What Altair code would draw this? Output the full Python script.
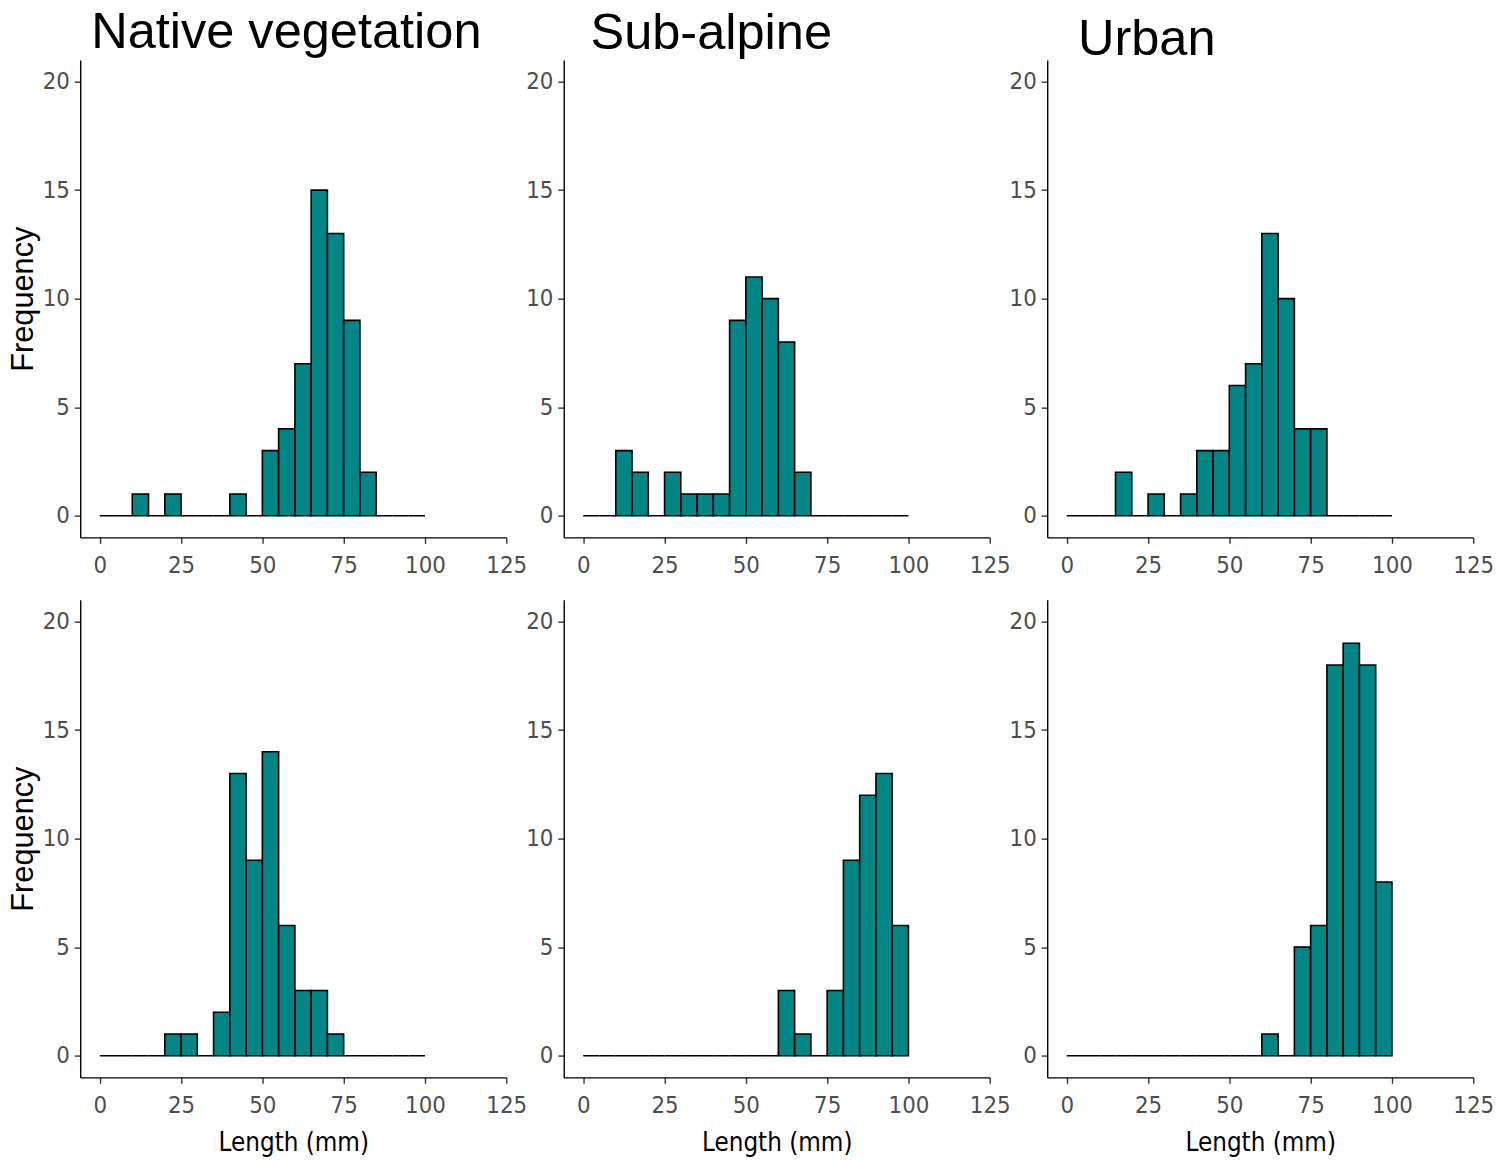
import altair as alt
import pandas as pd

# Length-frequency histograms, 5 mm bins from 0 to 100 mm
BIN_WIDTH = 5
BIN_STARTS = [0, 5, 10, 15, 20, 25, 30, 35, 40, 45, 50, 55, 60, 65, 70, 75, 80, 85, 90, 95]

HABITATS = ["Native vegetation", "Sub-alpine", "Urban"]

# top row
native_top = [0, 0, 1, 0, 1, 0, 0, 0, 1, 0, 3, 4, 7, 15, 13, 9, 2, 0, 0, 0]
subalpine_top = [0, 0, 3, 2, 0, 2, 1, 1, 1, 9, 11, 10, 8, 2, 0, 0, 0, 0, 0, 0]
urban_top = [0, 0, 0, 2, 0, 1, 0, 1, 3, 3, 6, 7, 13, 10, 4, 4, 0, 0, 0, 0]

# bottom row
native_bottom = [0, 0, 0, 0, 1, 1, 0, 2, 13, 9, 14, 6, 3, 3, 1, 0, 0, 0, 0, 0]
subalpine_bottom = [0, 0, 0, 0, 0, 0, 0, 0, 0, 0, 0, 0, 3, 1, 0, 3, 9, 12, 13, 6]
urban_bottom = [0, 0, 0, 0, 0, 0, 0, 0, 0, 0, 0, 0, 1, 0, 5, 6, 18, 19, 18, 8]

X_TICKS = [0, 25, 50, 75, 100, 125]
Y_TICKS = [0, 5, 10, 15, 20]
X_TITLE = "Length (mm)"
Y_TITLE = "Frequency"

FILL = "#038585"
NARROW = "'Liberation Sans Narrow', 'Arial Narrow', 'DejaVu Sans Condensed', 'Liberation Sans', sans-serif"
REGULAR = "'Liberation Sans', Arial, sans-serif"

PANEL_W = 430
PANEL_H = 482

# horizontal nudge and vertical shift of each column heading
HEADING_DX = [11, 27, 31]
HEADING_DY = [-5, -4, 2]


def axis(values, orient, title=None):
    opts = dict(
        values=values,
        grid=False,
        domainColor="black",
        domainWidth=1.4,
        tickColor="#333333",
        tickWidth=1.4,
        tickSize=6,
        labelFont=NARROW,
        labelFontSize=24,
        labelColor="#4D4D4D",
        labelFlush=False,
        labelOverlap=False,
        labelPadding=10 if orient == "bottom" else 5,
    )
    if title:
        opts.update(
            title=title,
            titleFontWeight="normal",
            titleColor="black",
        )
        if orient == "bottom":
            opts.update(titleFont=NARROW, titleFontSize=26, titlePadding=13)
        else:
            opts.update(titleFont=REGULAR, titleFontSize=31, titlePadding=3)
    else:
        opts.update(title=None)
    return alt.Axis(**opts)


def panel(counts, heading_idx=None, x_title=None, y_title=None):
    df = pd.DataFrame({
        "start": BIN_STARTS,
        "end": [s + BIN_WIDTH for s in BIN_STARTS],
        "count": counts,
    })
    chart = alt.Chart(df).mark_bar(
        fill=FILL, stroke="black", strokeWidth=1.6, opacity=1
    ).encode(
        x=alt.X("start:Q", scale=alt.Scale(domain=[-6, 125], nice=False, zero=False),
                axis=axis(X_TICKS, "bottom", x_title)),
        x2="end:Q",
        y=alt.Y("count:Q", scale=alt.Scale(domain=[-1, 21], nice=False, zero=False),
                axis=axis(Y_TICKS, "left", y_title)),
        y2=alt.datum(0),
    ).properties(width=PANEL_W, height=PANEL_H)
    if heading_idx is not None:
        chart = chart.properties(title=alt.TitleParams(
            text=HABITATS[heading_idx],
            anchor="start",
            frame="group",
            font=REGULAR,
            fontSize=51,
            fontWeight="normal",
            color="black",
            baseline="alphabetic",
            offset=-44,
            dx=HEADING_DX[heading_idx],
            dy=HEADING_DY[heading_idx],
        ))
    return chart


panels = [
    panel(native_top, 0, y_title=Y_TITLE),
    panel(subalpine_top, 1),
    panel(urban_top, 2),
    panel(native_bottom, x_title=X_TITLE, y_title=Y_TITLE),
    panel(subalpine_bottom, x_title=X_TITLE),
    panel(urban_bottom, x_title=X_TITLE),
]

chart = alt.concat(
    *panels, columns=3, spacing={"row": 63, "column": 58}, bounds="flush"
).properties(
    padding={"left": 7, "top": 2, "right": 5, "bottom": 5},
    background="white",
).configure_view(stroke=None)

chart.save("out.html", embed_options={"renderer": "svg", "actions": False})
